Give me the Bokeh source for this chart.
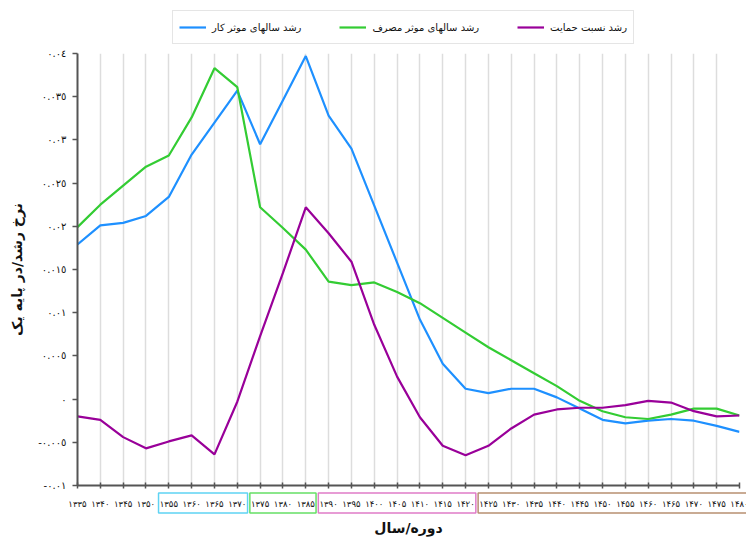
from bokeh.plotting import figure
from bokeh.layouts import column
from bokeh.models import FixedTicker, Legend, LegendItem, Range1d, ColumnDataSource
from bokeh.core.properties import value
from bokeh.embed import file_html
from bokeh.resources import INLINE

# ---------------- data ----------------
years = [1335, 1340, 1345, 1350, 1355, 1360, 1365, 1370, 1375, 1380,
         1385, 1390, 1395, 1400, 1405, 1410, 1415, 1420, 1425, 1430,
         1435, 1440, 1445, 1450, 1455, 1460, 1465, 1470, 1475, 1480]

x_labels = ["۱۳۳۵", "۱۳۴۰", "۱۳۴۵", "۱۳۵۰", "۱۳۵۵", "۱۳۶۰", "۱۳۶۵", "۱۳۷۰", "۱۳۷۵", "۱۳۸۰",
            "۱۳۸۵", "۱۳۹۰", "۱۳۹۵", "۱۴۰۰", "۱۴۰۵", "۱۴۱۰", "۱۴۱۵", "۱۴۲۰", "۱۴۲۵", "۱۴۳۰",
            "۱۴۳۵", "۱۴۴۰", "۱۴۴۵", "۱۴۵۰", "۱۴۵۵", "۱۴۶۰", "۱۴۶۵", "۱۴۷۰", "۱۴۷۵", "۱۴۸۰"]

labour = [0.0179, 0.0201, 0.0204, 0.0212, 0.0234, 0.0283, 0.0320, 0.0357, 0.0295, 0.0346,
          0.0397, 0.0328, 0.0290, 0.0224, 0.0158, 0.0092, 0.0041, 0.0012, 0.0007, 0.0012,
          0.0012, 0.0002, -0.0011, -0.0024, -0.0028, -0.0025, -0.0023, -0.0025, -0.0031, -0.0038]

consumption = [0.0199, 0.0225, 0.0247, 0.0269, 0.0282, 0.0326, 0.0383, 0.0361, 0.0222, 0.0198,
               0.0173, 0.0136, 0.0132, 0.0135, 0.0124, 0.0111, 0.0094, 0.0077, 0.0060, 0.0045,
               0.0030, 0.0015, -0.0002, -0.0014, -0.0021, -0.0023, -0.0018, -0.0011, -0.0011, -0.0019]

support = [-0.0020, -0.0024, -0.0044, -0.0057, -0.0049, -0.0042, -0.0064, -0.0003, 0.0073, 0.0146,
           0.0222, 0.0192, 0.0159, 0.0086, 0.0026, -0.0021, -0.0054, -0.0065, -0.0054, -0.0034,
           -0.0018, -0.0012, -0.0010, -0.0010, -0.0007, -0.0002, -0.0004, -0.0014, -0.0020, -0.0019]

y_ticks = [-0.01, -0.005, 0.0, 0.005, 0.01, 0.015, 0.02, 0.025, 0.03, 0.035, 0.04]
y_labels = ["-٠.٠١", "-٠.٠٠٥", "٠", "٠.٠٠٥", "٠.٠١", "٠.٠١٥", "٠.٠٢", "٠.٠٢٥", "٠.٠٣", "٠.٠٣٥", "٠.٠٤"]

series_names = ["رشد سالهای موثر کار", "رشد سالهای موثر مصرف", "رشد نسبت حمایت"]
series_colors = ["#1e90ff", "#33cc33", "#990099"]

# groups of periods framed under the x axis
group_start = [1355, 1375, 1390, 1425]
group_end = [1370, 1385, 1420, 1480]
group_colors = ["#5fd3f3", "#66e066", "#e07cc8", "#b89072"]

x_title = "دوره/سال"
y_title = "نرخ رشد/در پایه یک"

FONT = "DejaVu Sans"
W = 746
LEFT, RIGHT = 77, 7          # frame borders of the main plot
TOP_H = 46                   # legend strip height
MAIN_TOP, MAIN_BOTTOM = 7, 6
FRAME_H = 432
BOTTOM_H = 537 - TOP_H - MAIN_TOP - FRAME_H - MAIN_BOTTOM
series = [labour, consumption, support]


def bare(fig):
    fig.outline_line_color = None
    fig.background_fill_color = "white"
    fig.border_fill_color = "white"
    fig.xgrid.visible = False
    fig.ygrid.visible = False


# ---------------- legend strip ----------------
top = figure(width=W, height=TOP_H, output_backend="svg", toolbar_location=None,
             x_range=Range1d(0, 1), y_range=Range1d(0, 1),
             x_axis_location=None, y_axis_location=None,
             min_border_left=0, min_border_right=0, min_border_top=0, min_border_bottom=0)
bare(top)

HAS_ALIGN = "frame_align" in top.properties()

# same series, drawn outside this strip's (empty) view; only their legend samples show
legend_renderers = [top.line(years, vals, line_color=c, line_width=2.2)
                    for vals, c in zip(series, series_colors)]
legend_x = 172 if HAS_ALIGN else 172 - LEFT
legend = Legend(items=[LegendItem(label=n, renderers=[r]) for n, r in zip(series_names, legend_renderers)],
                orientation="horizontal", location=(legend_x, 2),
                margin=0, padding=6, spacing=38, glyph_width=27, label_standoff=6,
                border_line_color="#cccccc", border_line_width=1,
                label_text_font=FONT, label_text_font_size="10px", label_text_color="#111111")
top.add_layout(legend, "center")

# ---------------- main plot ----------------
p = figure(width=W, height=MAIN_TOP + FRAME_H + MAIN_BOTTOM, output_backend="svg", toolbar_location=None,
           x_range=Range1d(years[0], years[-1]), y_range=Range1d(y_ticks[0], y_ticks[-1]),
           min_border_left=LEFT, min_border_right=RIGHT,
           min_border_top=MAIN_TOP, min_border_bottom=MAIN_BOTTOM)
p.outline_line_color = None
p.background_fill_color = "white"
p.border_fill_color = "white"

for vals, col in zip(series, series_colors):
    p.line(years, vals, line_color=col, line_width=2.2)

p.xaxis.ticker = FixedTicker(ticks=years)
p.xaxis.major_label_overrides = {y: "" for y in years}
p.xaxis.major_label_text_font_size = "1px"
p.xaxis.major_label_standoff = 0
p.yaxis.ticker = FixedTicker(ticks=y_ticks)
p.yaxis.major_label_overrides = {t: l for t, l in zip(y_ticks, y_labels)}

for ax in (p.xaxis[0], p.yaxis[0]):
    ax.axis_line_color = "#555555"
    ax.axis_line_width = 2
    ax.major_tick_line_color = "#555555"
    ax.major_tick_line_width = 1.5
    ax.minor_tick_line_color = None

p.xaxis.major_tick_in = 3
p.xaxis.major_tick_out = 3

p.yaxis.major_label_text_font = FONT
p.yaxis.major_label_text_font_size = "10px"
p.yaxis.major_label_text_color = "#111111"
p.yaxis.major_tick_in = 0
p.yaxis.major_tick_out = 5
p.yaxis.major_label_standoff = 6
p.yaxis.axis_label = y_title
p.yaxis.axis_label_standoff = 10
p.yaxis.axis_label_text_font = FONT
p.yaxis.axis_label_text_font_size = "14px"
p.yaxis.axis_label_text_font_style = "bold"
p.yaxis.axis_label_text_color = "#111111"

p.xgrid.grid_line_color = "#dddddd"
p.xgrid.grid_line_width = 1.5
p.ygrid.grid_line_color = None

# ---------------- x labels strip ----------------
px_per_year = (W - LEFT - RIGHT) / (years[-1] - years[0])
if HAS_ALIGN:
    bx0 = years[0] - LEFT / px_per_year
    bx1 = years[-1] + RIGHT / px_per_year
else:
    bx0, bx1 = years[0], years[-1]
bottom = figure(width=W, height=BOTTOM_H, output_backend="svg", toolbar_location=None,
                x_range=Range1d(bx0, bx1), y_range=Range1d(BOTTOM_H, 0),
                x_axis_location=None, y_axis_location=None,
                min_border_left=0, min_border_right=0, min_border_top=0, min_border_bottom=0)
bare(bottom)

if HAS_ALIGN:
    for f in (top, p, bottom):
        f.frame_align = False

pad = 2.25
box_src = ColumnDataSource(dict(
    left=[s - pad for s in group_start],
    right=[e + pad + (4 if e == years[-1] else 0) for e in group_end],
    top=[1.5] * len(group_start), bottom=[21.5] * len(group_start),
    color=group_colors))
bottom.quad(left="left", right="right", top="top", bottom="bottom", source=box_src,
            fill_color=None, line_color="color", line_width=1.5)

lab_src = ColumnDataSource(dict(x=years, y=[12] * len(years), text=x_labels))
bottom.text(x="x", y="y", text="text", source=lab_src, text_align="center", text_baseline="middle",
            text_font=value(FONT), text_font_size="8.5px", text_color="#111111")

bottom.text(x=[(years[0] + years[-1]) / 2], y=[36], text=[x_title], text_align="center",
            text_baseline="middle", text_font=value(FONT), text_font_size="14px",
            text_font_style="bold", text_color="#111111")

layout = column(top, p, bottom, spacing=0)
open("out.html", "w").write(file_html(layout, INLINE))
